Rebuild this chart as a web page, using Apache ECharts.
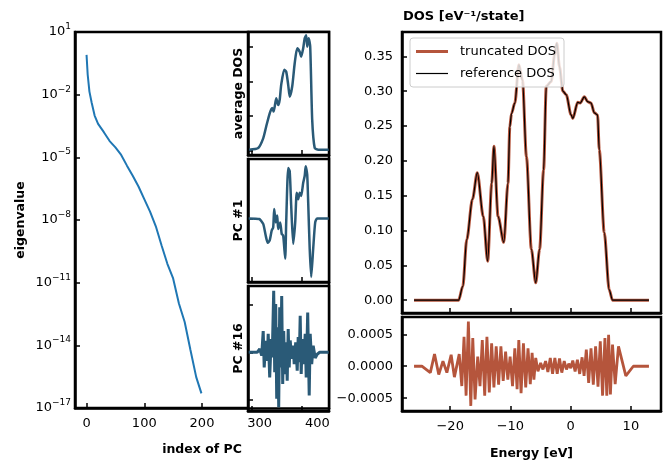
<!DOCTYPE html>
<html>
<head>
<meta charset="utf-8">
<script src="https://cdn.jsdelivr.net/npm/echarts@6/dist/echarts.min.js"></script>
<style>
  html, body { margin: 0; padding: 0; background: #fff; }
  #main { width: 667px; height: 461px; }
</style>
</head>
<body>
<div id="main"></div>
<script>
const FONT = "DejaVu Sans";

// eigenvalue spectrum (left panel, log scale)
const eigIndex = [0, 2, 5, 9, 14, 20, 30, 40, 50, 60, 70, 80, 90, 100, 110, 120, 130, 140, 150, 160, 170, 180, 190, 199];
const eigValue = [0.8, 0.09, 0.014, 4e-3, 1e-3, 4e-4, 1.6e-4, 6e-5, 3e-5, 1.3e-5, 4e-6, 1.3e-6, 4e-7, 1e-7, 2.5e-8, 5e-9, 6e-10, 8e-11, 1.6e-11, 1e-12, 1.3e-13, 6e-15, 3e-16, 5e-17];
const eigTicks = [-17, -14, -11, -8, -5, -2, 1];
const pcTicks = [0, 100, 200, 300, 400];

// middle panels (grid index on x)
const avgX = [-6, 12, 22, 28, 35, 40, 43, 48, 52, 55, 58, 64, 68, 72, 75, 80, 85, 90, 95, 98, 102, 105, 108, 110, 113, 116, 120, 125, 132, 153];
const avgY = [0.003, 0.008, 0.036, 0.07, 0.108, 0.123, 0.113, 0.151, 0.132, 0.147, 0.19, 0.233, 0.228, 0.19, 0.156, 0.185, 0.252, 0.295, 0.285, 0.271, 0.295, 0.324, 0.333, 0.3, 0.324, 0.3, 0.089, 0.008, 0.003, 0.003];

const pc1X = [-7, 14, 22, 27, 31, 35, 39, 42, 44, 47, 50, 52, 56, 59, 62, 66, 68, 72, 75, 78, 82, 86, 89, 92, 95, 98, 102, 105, 107, 110, 112, 115, 118, 122, 126, 130, 153];
const pc1Y = [0, -0.03, -0.26, -0.81, -1.15, -1.04, -0.57, -0.42, 0.44, -0.19, 0.13, -0.5, -0.19, -0.73, -0.81, -1.9, -0.19, 2.38, 2.23, 0.59, -1.2, -0.19, 1.21, 0.9, 1.21, 1.06, 1.68, 2.0, 2.46, 2.07, 0.75, -1.43, -2.76, -1.43, -0.19, 0, 0];

const pc16X = [-7, 10, 15, 19, 22, 24, 27, 30, 32, 35, 38, 40, 43, 45, 47, 49, 51, 53, 55, 57, 59, 61, 63, 65, 68, 70, 72, 74, 76, 79, 82, 84, 87, 90, 92, 94, 96, 98, 100, 103, 106, 108, 111, 114, 116, 119, 122, 126, 130, 135, 153];
const pc16Y = [0, 0, 0.07, -0.07, 0.45, -0.32, 0.24, -0.18, 0.39, -0.53, 0.28, -0.11, 1.3, -0.42, 1.02, -0.98, 0.53, -1.16, 0.95, -0.32, 1.19, -0.67, 0.45, -0.46, 0.21, -0.6, 0.49, -0.32, 0.25, -0.14, 0.14, -0.25, 0.21, -0.39, 0.32, -0.21, 0.77, -0.46, 0.28, -0.25, 0.39, -0.53, 0.84, -0.91, 0.39, -0.25, 0.14, -0.12, -0.04, 0, 0];

// DOS (right panel)
const dosEnergy = [-26.0, -18.6, -17.9, -17.25, -16.3, -15.5, -14.5, -13.78, -13.1, -12.74, -12.05, -11.1, -10.4, -10.1, -9.82, -9.27, -8.6, -8.0, -7.34, -6.52, -5.8, -5.15, -4.49, -4.05, -3.22, -2.67, -2.3, -1.85, -1.3, -0.74, 0.08, 0.35, 1.18, 1.57, 2.28, 2.82, 3.38, 3.93, 4.47, 4.75, 5.58, 6.4, 6.95, 13.0];
const dosReference = [0, 0, 0.02, 0.087, 0.145, 0.183, 0.12, 0.056, 0.168, 0.221, 0.12, 0.083, 0.168, 0.249, 0.268, 0.283, 0.338, 0.316, 0.206, 0.073, 0.025, 0.073, 0.187, 0.307, 0.314, 0.352, 0.369, 0.335, 0.30, 0.295, 0.266, 0.261, 0.284, 0.283, 0.292, 0.285, 0.283, 0.269, 0.266, 0.216, 0.097, 0.015, 0, 0];
const dosTruncated = dosReference; // difference is below line width
const dosTicks = [0, 0.05, 0.1, 0.15, 0.2, 0.25, 0.3, 0.35];
const energyTicks = [-20, -10, 0, 10];

// truncated - reference
const diffEnergy = [-26.0, -24.7, -23.3, -22.6, -21.9, -21.2, -20.55, -19.84, -19.3, -18.5, -18.07, -17.7, -17.36, -16.98, -16.58, -16.25, -15.87, -15.43, -15.05, -14.67, -14.27, -13.9, -13.51, -13.12, -12.74, -12.36, -11.96, -11.58, -11.2, -10.8, -10.43, -10.05, -9.65, -9.27, -8.89, -8.61, -8.23, -7.84, -7.46, -7.08, -6.7, -6.4, -6.1, -5.8, -5.43, -4.98, -4.6, -4.16, -3.78, -3.38, -3.0, -2.62, -2.23, -1.85, -1.47, -1.07, -0.69, -0.31, 0.02, 0.35, 0.74, 1.12, 1.5, 1.9, 2.23, 2.6, 2.99, 3.38, 3.76, 4.14, 4.54, 4.92, 5.3, 5.69, 6.0, 6.3, 6.6, 6.95, 7.39, 7.94, 9.16, 10.4, 13.0];
const diffValue = [0, 0, -0.0001, 0.00019, -0.00013, 0.00008, -0.0001, 0.00018, -0.00017, 0.00019, -0.00031, 0.00046, -0.00046, 0.0007, -0.00062, 0.00044, -0.00052, 0.00015, -0.00031, 0.00041, -0.00046, 0.00046, -0.00041, 0.00036, -0.00033, 0.00031, -0.00029, 0.00031, -0.00023, 0.00023, -0.00021, 0.00015, -0.00031, 0.00028, -0.00036, 0.00041, -0.00042, 0.00036, -0.00033, 0.00028, -0.00028, 0.00021, -0.00021, 0.00013, -0.00008, 0.00005, -0.00005, 0.00008, -0.00009, 0.00013, -0.00012, 0.00013, -0.00012, 0.00012, -0.0001, 0.00008, -0.00005, 0.00004, -0.00003, 0.00009, -0.00008, 0.0001, -0.00012, 0.00014, -0.00015, 0.00026, -0.00026, 0.00028, -0.00029, 0.00031, -0.00032, 0.00039, -0.00046, 0.00044, -0.00046, 0.00049, -0.00044, 0.00034, -0.00028, 0.00031, -0.00015, 0, 0];
const diffTicks = [-0.0005, 0, 0.0005];

const BLUE = "#1f77b4";
const TEAL = "#2a5a77";
const SIENNA = "#b5553c";

function zip(a, b) {
  return a.map((v, i) => [v, b[i]]);
}
function minus(s) {
  return String(s).replace("-", "\u2212");
}

// shared axis style
function axis(gridIndex, min, max, ticks, labels, extra) {
  let a = {
    type: "value",
    gridIndex: gridIndex,
    min: min,
    max: max,
    axisLine: { show: true, onZero: false, lineStyle: { color: "#000", width: 2.5 } },
    axisTick: { show: true, inside: true, length: 5, customValues: ticks, lineStyle: { color: "#000", width: 1.5 } },
    axisLabel: labels
      ? { show: true, customValues: labels, color: "#000", fontSize: 13, fontFamily: FONT, margin: 9 }
      : { show: false },
    splitLine: { show: false },
    nameTextStyle: { color: "#000", fontSize: 12.5, fontWeight: "bold", fontFamily: FONT },
  };
  return Object.assign(a, extra || {});
}

let chart = echarts.init(document.getElementById("main"), null, { renderer: "canvas" });

const frame = { show: true, borderColor: "#000", borderWidth: 2.5, backgroundColor: "#fff" };

let xLeft = axis(0, -20, 420, [0, 100, 200], pcTicks, {
  name: "index of PC", nameLocation: "middle", nameGap: 35,
});
let yLeft = axis(0, -17, 1, eigTicks, eigTicks, {
  name: "eigenvalue", nameLocation: "middle", nameGap: 48,
});
yLeft.axisLabel.margin = 4;
yLeft.axisLabel.formatter = (v) => "{b|10}{s|" + minus(v) + "}";
yLeft.axisLabel.rich = {
  b: { fontSize: 13, fontFamily: FONT, color: "#000" },
  s: { fontSize: 9, fontFamily: FONT, color: "#000", padding: [0, 0, 11, 0] },
};

let xDos = axis(5, -28, 15, energyTicks, energyTicks, {
  name: "Energy [eV]", nameLocation: "middle", nameGap: 36,
});
xDos.axisLabel.formatter = (v) => minus(v);
let yDos = axis(4, -0.0184, 0.385, dosTicks, dosTicks);
yDos.axisLabel.formatter = (v) => v.toFixed(2);
let yDiff = axis(5, -0.0007, 0.00077, diffTicks, diffTicks);
yDiff.axisLabel.formatter = (v) => minus(v.toFixed(4));

let option = {
  animation: false,
  backgroundColor: "#fff",
  textStyle: { fontFamily: FONT },
  title: {
    text: "DOS [eV\u207b\u00b9/state]",
    left: 398,
    top: 5,
    textStyle: { fontFamily: FONT, fontSize: 13, fontWeight: "bold", color: "#000" },
  },
  legend: {
    data: [
      { name: "truncated DOS", icon: "path://M0,0h32v3h-32z" },
      { name: "reference DOS", icon: "path://M0,0h32v1.2h-32z" },
    ],
    orient: "vertical",
    left: 410,
    top: 38,
    itemWidth: 32,
    itemHeight: 12,
    itemGap: 9,
    padding: [7, 8, 7, 6],
    borderColor: "#cccccc",
    borderWidth: 1,
    borderRadius: 3,
    backgroundColor: "rgba(255,255,255,0.8)",
    selectedMode: false,
    textStyle: { fontSize: 13, fontFamily: FONT, color: "#000", padding: [0, 0, 0, 7] },
  },
  grid: [
    Object.assign({ left: 75, top: 32, width: 254, height: 379 }, frame),
    Object.assign({ left: 248, top: 32, width: 81, height: 123 }, frame),
    Object.assign({ left: 248, top: 159, width: 81, height: 123 }, frame),
    Object.assign({ left: 248, top: 286, width: 81, height: 125 }, frame),
    Object.assign({ left: 402, top: 32, width: 259, height: 281 }, frame),
    Object.assign({ left: 402, top: 317, width: 259, height: 95 }, frame),
  ],
  xAxis: [
    xLeft,
    axis(1, -8.4, 153.6, [0, 100], null),
    axis(2, -8.4, 153.6, [0, 100], null),
    axis(3, -8.4, 153.6, [0, 100], null),
    axis(4, -28, 15, energyTicks, null),
    xDos,
  ],
  yAxis: [
    yLeft,
    axis(1, -0.012, 0.342, [0, 0.1, 0.2, 0.3], null, { name: "average DOS", nameLocation: "middle", nameGap: 3 }),
    axis(2, -3.0, 2.8, [0], null, { name: "PC #1", nameLocation: "middle", nameGap: 3 }),
    axis(3, -1.24, 1.4, [-1, 0, 1], null, { name: "PC #16", nameLocation: "middle", nameGap: 3 }),
    yDos,
    yDiff,
  ],
  series: [
    {
      type: "line", xAxisIndex: 0, yAxisIndex: 0, symbol: "none",
      data: eigIndex.map((x, i) => [x, Math.log10(eigValue[i])]),
      lineStyle: { color: BLUE, width: 2 },
    },
    {
      type: "line", xAxisIndex: 1, yAxisIndex: 1, symbol: "none", smooth: 0.2,
      data: zip(avgX, avgY), lineStyle: { color: TEAL, width: 2.5 },
    },
    {
      type: "line", xAxisIndex: 2, yAxisIndex: 2, symbol: "none", smooth: 0.2,
      data: zip(pc1X, pc1Y), lineStyle: { color: TEAL, width: 2.5 },
    },
    {
      type: "line", xAxisIndex: 3, yAxisIndex: 3, symbol: "none",
      data: zip(pc16X, pc16Y), lineStyle: { color: TEAL, width: 3 },
    },
    {
      name: "truncated DOS", type: "line", xAxisIndex: 4, yAxisIndex: 4, symbol: "none",
      smooth: 0.3, smoothMonotone: "x",
      data: zip(dosEnergy, dosTruncated), color: SIENNA, lineStyle: { color: SIENNA, width: 3 },
    },
    {
      name: "reference DOS", type: "line", xAxisIndex: 4, yAxisIndex: 4, symbol: "none",
      smooth: 0.3, smoothMonotone: "x",
      data: zip(dosEnergy, dosReference), color: "#000", lineStyle: { color: "#000", width: 1.2 },
    },
    {
      type: "line", xAxisIndex: 5, yAxisIndex: 5, symbol: "none",
      data: zip(diffEnergy, diffValue), lineStyle: { color: SIENNA, width: 2.8 },
    },
  ],
};

chart.setOption(option);
</script>
</body>
</html>
